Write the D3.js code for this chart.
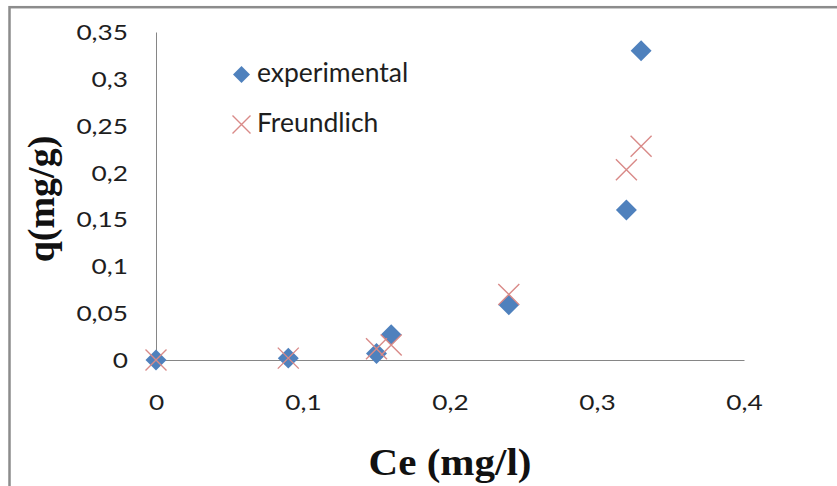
<!DOCTYPE html>
<html>
<head>
<meta charset="utf-8">
<script src="https://cdn.jsdelivr.net/npm/d3@7"></script>
<style>
  html, body { margin: 0; padding: 0; background: #fff; overflow: hidden; }
  svg { display: block; }
</style>
</head>
<body>
<svg id="chart" width="837" height="486"></svg>
<script>
// Adsorption isotherm: equilibrium concentration Ce vs uptake q
const ceValues = [0, 0.09, 0.15, 0.16, 0.24, 0.32, 0.33];
const qExperimental = [0, 0.002, 0.007, 0.027, 0.059, 0.160, 0.330];
const qFreundlich = [0, 0.002, 0.012, 0.016, 0.070, 0.203, 0.228];
const xTicks = [0, 0.1, 0.2, 0.3, 0.4];
const yTicks = [0, 0.05, 0.1, 0.15, 0.2, 0.25, 0.3, 0.35];
const seriesNames = ["experimental", "Freundlich"];

const svg = d3.select("#chart");
const W = 837, H = 486;
const plot = { left: 156, right: 744, top: 32, bottom: 360 };

const fmt = v => String(+v.toFixed(2)).replace(".", ",");

const x = d3.scaleLinear().domain([0, 0.4]).range([plot.left, plot.right]);
const y = d3.scaleLinear().domain([0, 0.35]).range([plot.bottom, plot.top]);

// chart frame
svg.append("rect")
  .attr("x", 9.5).attr("y", 7.2)
  .attr("width", W + 20).attr("height", H + 20)
  .attr("fill", "#fff")
  .attr("stroke", "#8c8c8c").attr("stroke-width", 2.5);

const tickFont = "Lato, 'Open Sans', sans-serif";
const tickSize = 21, tickStretch = 1.25;

// x axis
const xAxis = svg.append("g")
  .attr("transform", `translate(0,${y(0)})`)
  .call(d3.axisBottom(x).tickValues(xTicks).tickFormat(fmt).tickSize(0));
xAxis.select(".domain").attr("stroke", "#868686");
xAxis.selectAll(".tick text")
  .attr("x", 0).attr("y", 50).attr("dy", 0)
  .attr("transform", `scale(${tickStretch},1)`)
  .attr("font-family", tickFont).attr("font-size", tickSize).attr("fill", "#1e1e1e");

// y axis
const yAxis = svg.append("g")
  .attr("transform", `translate(${x(0)},0)`)
  .call(d3.axisLeft(y).tickValues(yTicks).tickFormat(fmt).tickSize(0));
yAxis.select(".domain").attr("stroke", "#868686");
yAxis.selectAll(".tick text")
  .attr("x", -28 / tickStretch).attr("y", 7.5).attr("dy", 0)
  .attr("transform", `scale(${tickStretch},1)`)
  .attr("font-family", tickFont).attr("font-size", tickSize).attr("fill", "#1e1e1e");

// axis titles
const titleFont = "'Liberation Serif', 'Times New Roman', serif";
svg.append("text")
  .attr("transform", "translate(450,475) scale(1.08,1)")
  .attr("text-anchor", "middle")
  .attr("font-family", titleFont)
  .attr("font-weight", "bold").attr("font-size", 38)
  .attr("fill", "#111")
  .text("Ce (mg/l)");

svg.append("text")
  .attr("transform", "translate(54,199) rotate(-90)")
  .attr("text-anchor", "middle")
  .attr("font-family", titleFont)
  .attr("font-weight", "bold").attr("font-size", 38)
  .attr("fill", "#111")
  .text("q(mg/g)");

const expData = ceValues.map((c, i) => ({ c, q: qExperimental[i] }));
const frData = ceValues.map((c, i) => ({ c, q: qFreundlich[i] }));

const blue = "#4f81bd", red = "#d98a88";

// experimental points (diamonds)
svg.append("g").selectAll("path")
  .data(expData).join("path")
  .attr("d", d3.symbol().type(d3.symbolSquare).size(220))
  .attr("transform", d => `translate(${x(d.c)},${y(d.q)}) rotate(45)`)
  .attr("fill", blue);

// Freundlich model points (crosses)
const crossPath = r => `M${-r},${-r}L${r},${r}M${-r},${r}L${r},${-r}`;
svg.append("g").selectAll("path")
  .data(frData).join("path")
  .attr("d", crossPath(10.5))
  .attr("transform", d => `translate(${x(d.c)},${y(d.q)})`)
  .attr("fill", "none")
  .attr("stroke", red).attr("stroke-width", 1.4);

// legend
const legend = svg.append("g");
legend.append("path")
  .attr("d", d3.symbol().type(d3.symbolSquare).size(144))
  .attr("transform", "translate(241.5,74.5) rotate(45)")
  .attr("fill", blue);
legend.append("path")
  .attr("d", crossPath(9))
  .attr("transform", "translate(241.5,124.5)")
  .attr("fill", "none").attr("stroke", red).attr("stroke-width", 1.4);
legend.selectAll("text")
  .data(seriesNames).join("text")
  .attr("x", 257)
  .attr("y", (d, i) => 82 + i * 50)
  .attr("font-family", tickFont).attr("font-size", 26.5).attr("fill", "#1e1e1e")
  .text(d => d);
</script>
</body>
</html>
